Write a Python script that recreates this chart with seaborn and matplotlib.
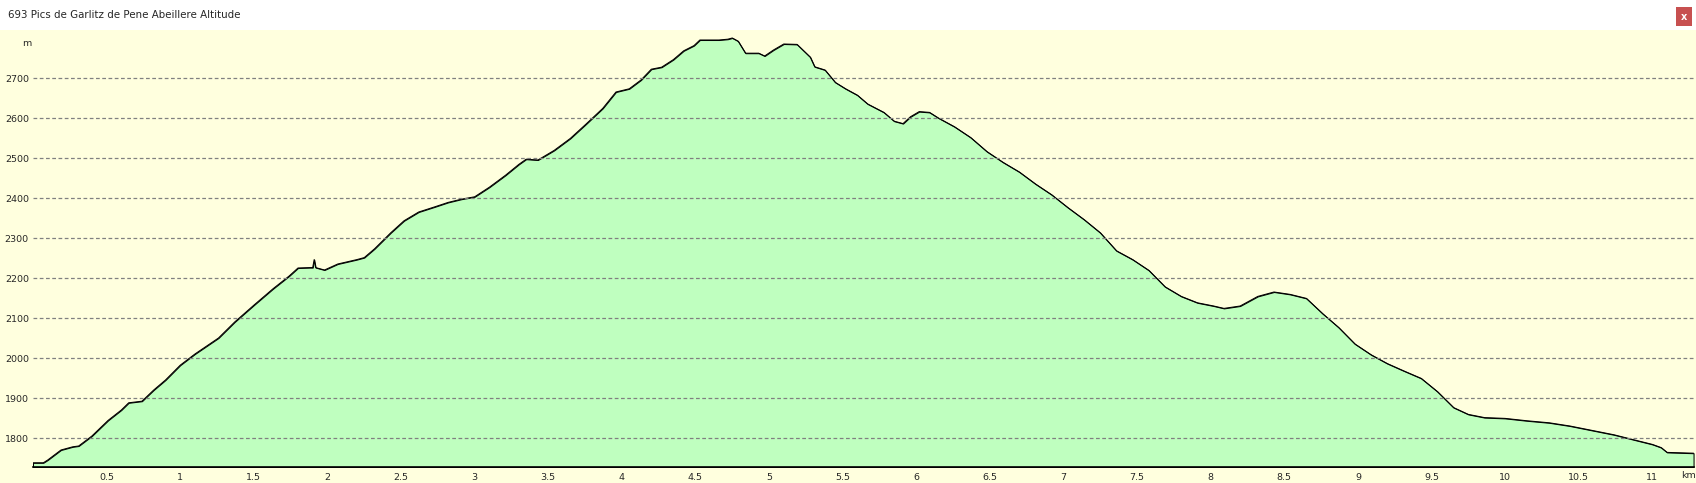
import matplotlib
matplotlib.use("Agg")
import matplotlib.pyplot as plt
from matplotlib.patches import Rectangle
import seaborn as sns
import pandas as pd

# altitude profile
km = [0, 0.07, 0.1, 0.19, 0.27, 0.31, 0.4, 0.51, 0.6, 0.65,
      0.74, 0.82, 0.9, 1.0, 1.1, 1.18, 1.26, 1.37, 1.5, 1.63,
      1.74, 1.8, 1.88, 1.9, 1.91, 1.92, 1.98, 2.07, 2.2, 2.25,
      2.32, 2.43, 2.52, 2.62, 2.73, 2.82, 2.91, 3.0, 3.1, 3.21,
      3.3, 3.35, 3.43, 3.54, 3.65, 3.76, 3.87, 3.96, 4.05, 4.13,
      4.2, 4.27, 4.35, 4.42, 4.49, 4.53, 4.66, 4.72, 4.75, 4.79,
      4.84, 4.93, 4.97, 5.03, 5.1, 5.19, 5.28, 5.31, 5.38, 5.45,
      5.52, 5.6, 5.67, 5.78, 5.85, 5.91, 5.96, 6.02, 6.09, 6.15,
      6.26, 6.37, 6.48, 6.59, 6.7, 6.81, 6.92, 7.03, 7.14, 7.25,
      7.36, 7.47, 7.58, 7.69, 7.8, 7.91, 8.02, 8.09, 8.2, 8.32,
      8.43, 8.54, 8.65, 8.76, 8.87, 8.98, 9.09, 9.2, 9.31, 9.43,
      9.54, 9.65, 9.75, 9.86, 10.0, 10.15, 10.3, 10.44, 10.59, 10.74,
      10.88, 11.0, 11.06, 11.1, 11.28]
altitude = [1738, 1738, 1745, 1770, 1778, 1780, 1805, 1844, 1870, 1888,
            1892, 1920, 1945, 1982, 2010, 2030, 2050, 2090, 2132, 2173,
            2205, 2225, 2226, 2226, 2246, 2226, 2220, 2235, 2246, 2251,
            2273, 2313, 2343, 2365, 2378, 2389, 2397, 2403, 2427, 2457,
            2484, 2497, 2495, 2519, 2549, 2586, 2624, 2665, 2673, 2695,
            2722, 2727, 2746, 2768, 2781, 2795, 2795, 2797, 2800, 2792,
            2762, 2762, 2755, 2770, 2785, 2784, 2752, 2728, 2720, 2689,
            2673, 2657, 2635, 2614, 2592, 2586, 2603, 2616, 2614, 2600,
            2578, 2551, 2516, 2489, 2465, 2435, 2408, 2376, 2346, 2313,
            2268, 2246, 2219, 2178, 2154, 2138, 2130, 2124, 2130, 2154,
            2165, 2159, 2149, 2111, 2076, 2035, 2008, 1986, 1968, 1949,
            1916, 1876, 1859, 1851, 1849, 1843, 1838, 1830, 1819, 1808,
            1795, 1784, 1776, 1764, 1762]

x_ticks = [0.5, 1, 1.5, 2, 2.5, 3, 3.5, 4, 4.5, 5, 5.5, 6, 6.5, 7, 7.5, 8,
           8.5, 9, 9.5, 10, 10.5, 11]
x_labels = ["0.5", "1", "1.5", "2", "2.5", "3", "3.5", "4", "4.5", "5", "5.5",
            "6", "6.5", "7", "7.5", "8", "8.5", "9", "9.5", "10", "10.5", "11"]
y_ticks = [1800, 1900, 2000, 2100, 2200, 2300, 2400, 2500, 2600, 2700]

title = "693 Pics de Garlitz de Pene Abeillere Altitude"

df = pd.DataFrame({"km": km, "alt": altitude})

sns.set_style("white")
plt.rcParams["font.family"] = ["DejaVu Sans"]

W, H = 1696, 483
fig = plt.figure(figsize=(W / 100, H / 100), dpi=100)
fig.patch.set_facecolor("#FFFFDE")

# white title bar
fig.add_artist(Rectangle((0, 1 - 30 / H), 1, 30 / H, transform=fig.transFigure,
                         facecolor="white", edgecolor="none", zorder=0))
fig.text(8 / W, 1 - 15 / H, title, fontsize=7.4, va="center", ha="left")
# close button
fig.add_artist(Rectangle((1676 / W, 1 - 26 / H), 16 / W, 19 / H, transform=fig.transFigure,
                         facecolor="#C75050", edgecolor="none", zorder=2))
fig.text(1684 / W, 1 - 16.5 / H, "x", color="white", fontsize=7, fontweight="bold",
         ha="center", va="center", zorder=3)

ymin, ymax = 1727.5, 2820
xmax = 11.283
ax = fig.add_axes([33 / W, 16 / H, (1694 - 33) / W, (467 - 30) / H])
ax.set_facecolor("#FFFFDE")

ax.fill_between(df["km"], df["alt"], ymin, facecolor="#BFFFBF", edgecolor="black",
                linewidth=0.75, zorder=1)
sns.lineplot(data=df, x="km", y="alt", color="black", linewidth=0.75, ax=ax, zorder=2)

ax.set_xlim(0, xmax)
ax.set_ylim(ymin, ymax)

for v in y_ticks:
    ax.axhline(v, color="#808080", linestyle=(0, (3, 2)), linewidth=0.9, zorder=3)

ax.set_xticks(x_ticks)
ax.set_xticklabels(x_labels)
ax.set_yticks(y_ticks)
ax.set_yticklabels([str(v) for v in y_ticks])
ax.tick_params(axis="x", direction="in", length=3, width=1, color="#0000FF",
               labelsize=6.8, pad=4)
ax.tick_params(axis="y", length=0, labelsize=6.8, pad=3)
ax.set_xlabel("")
ax.set_ylabel("")

for side in ["top", "right", "left"]:
    ax.spines[side].set_visible(False)
ax.spines["bottom"].set_color("black")
ax.spines["bottom"].set_linewidth(1.2)
ax.spines["bottom"].set_zorder(4)

fig.text(27 / W, 1 - 44 / H, "m", fontsize=6.8, ha="center", va="center")
fig.text(1688 / W, 1 - 476 / H, "km", fontsize=6.8, ha="center", va="center")

fig.savefig("out.png", dpi=100, facecolor=fig.get_facecolor())
